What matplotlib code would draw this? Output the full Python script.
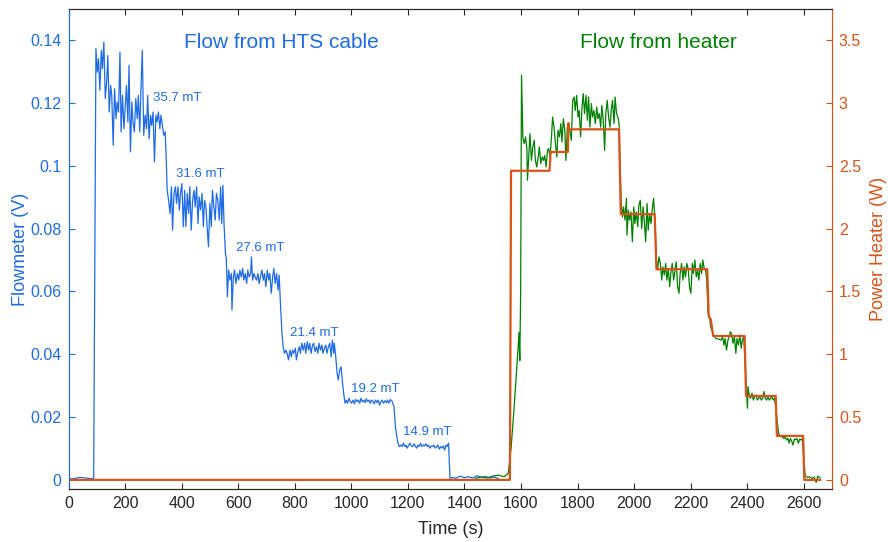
import numpy as np
import matplotlib
matplotlib.use('Agg')
import matplotlib.pyplot as plt

plt.rcParams['font.family'] = ['Liberation Sans', 'DejaVu Sans']

# Flowmeter signal while the HTS cable is energised (time in s, signal in V)
cable_t = [0, 20, 40, 60, 80, 89, 93, 97,
           102, 106, 111, 116, 120, 125, 130, 135, 139, 144, 149, 153, 158, 163, 168, 172,
           177, 182, 186, 191, 196, 200, 205, 210, 214, 219, 224, 228, 233, 238, 243, 247,
           252, 257, 261, 266, 271, 276, 280, 285, 290, 294, 299, 304, 309, 313, 318, 323,
           327, 332, 337, 342, 346,
           349, 354, 359, 364, 368, 373, 378, 382, 387, 392, 396, 401, 406, 411, 415, 420,
           425, 429, 434, 439, 444, 448, 453, 458, 462, 467, 472, 477, 481, 486, 491, 495,
           500, 505, 509, 514, 519, 523, 528, 533, 538, 542, 546, 550, 555, 558,
           562, 566, 571, 576, 578, 583, 587, 592, 597, 602, 606, 611, 616, 620, 625, 630,
           634, 639, 644, 647, 651, 656, 660, 665, 670, 674, 679, 684, 689, 693, 698, 703,
           708, 712, 717, 722, 726, 731, 736, 741, 745, 750, 755, 759,
           764, 769, 773, 778, 783, 788, 792, 797, 802, 806, 811, 816, 820, 825, 830, 835,
           839, 844, 849, 853, 858, 863, 867, 872, 877, 882, 886, 891, 896, 900, 905, 910,
           914, 919, 924, 929, 933, 938, 940, 945, 950, 954, 959, 964, 968, 973, 978,
           983, 987, 992, 997, 1001, 1006, 1011, 1015, 1020, 1025, 1030, 1034, 1039, 1044,
           1048, 1053, 1058, 1063, 1067, 1072, 1077, 1081, 1086, 1091, 1095, 1100, 1105,
           1109, 1114, 1119, 1124, 1128, 1133, 1138, 1145, 1151, 1156, 1161, 1165,
           1170, 1175, 1179, 1184, 1189, 1193, 1198, 1203, 1208, 1212, 1217, 1222, 1226,
           1231, 1236, 1240, 1245, 1250, 1255, 1259, 1264, 1269, 1273, 1278, 1283, 1287,
           1292, 1297, 1302, 1306, 1311, 1316, 1320, 1325, 1330, 1335, 1339, 1344, 1349,
           1357, 1370, 1385, 1400, 1415, 1430, 1445, 1460, 1475, 1490, 1505, 1520]
cable_v = [0.0003, 0.0004, 0.0008, 0.0006, 0.0004, 0.0005, 0.07, 0.1373,
           0.1298, 0.1341, 0.1240, 0.1367, 0.1309, 0.1394, 0.1214, 0.1267, 0.1351, 0.1171,
           0.1256, 0.1224, 0.1065, 0.1245, 0.1150, 0.1203, 0.1171, 0.1362, 0.1108, 0.1224,
           0.1118, 0.1182, 0.1256, 0.1139, 0.1320, 0.1044, 0.1203, 0.1139, 0.1108, 0.1214,
           0.1150, 0.1224, 0.1108, 0.1267, 0.1367, 0.1097, 0.1161, 0.1118, 0.1224, 0.1086,
           0.1161, 0.1129, 0.1171, 0.1012, 0.1161, 0.1139, 0.1171, 0.1118, 0.1161, 0.1129,
           0.1097, 0.1108, 0.1012,
           0.0922, 0.0890, 0.0848, 0.0933, 0.0795, 0.0912, 0.0933, 0.0880, 0.0933, 0.0859,
           0.0912, 0.0943, 0.0806, 0.0922, 0.0806, 0.0912, 0.0848, 0.0933, 0.0795, 0.0890,
           0.0922, 0.0869, 0.0933, 0.0816, 0.0901, 0.0859, 0.0912, 0.0806, 0.0890, 0.0869,
           0.0795, 0.0742, 0.0880, 0.0806, 0.0922, 0.0869, 0.0827, 0.0912, 0.0890, 0.0827,
           0.0933, 0.0816, 0.0938, 0.0816, 0.0721, 0.0705,
           0.0583, 0.0668, 0.0636, 0.0657, 0.0541, 0.0646, 0.0668, 0.0625, 0.0657, 0.0636,
           0.0668, 0.0646, 0.0673, 0.0636, 0.0657, 0.0625, 0.0668, 0.0646, 0.0657, 0.0710,
           0.0636, 0.0657, 0.0646, 0.0636, 0.0657, 0.0625, 0.0646, 0.0668, 0.0636, 0.0657,
           0.0615, 0.0668, 0.0636, 0.0657, 0.0594, 0.0646, 0.0673, 0.0625, 0.0657, 0.0604,
           0.0652, 0.0551, 0.0466, 0.0424,
           0.0403, 0.0413, 0.0403, 0.0382, 0.0413, 0.0392, 0.0413, 0.0403, 0.0419, 0.0382,
           0.0408, 0.0424, 0.0403, 0.0435, 0.0413, 0.0435, 0.0403, 0.0440, 0.0413, 0.0435,
           0.0403, 0.0429, 0.0435, 0.0408, 0.0424, 0.0403, 0.0435, 0.0413, 0.0429, 0.0403,
           0.0419, 0.0429, 0.0403, 0.0424, 0.0435, 0.0392, 0.0445, 0.0403, 0.0435, 0.0392,
           0.0339, 0.0318, 0.0350, 0.0360, 0.0318, 0.0276, 0.0244,
           0.0254, 0.0244, 0.0260, 0.0249, 0.0244, 0.0254, 0.0242, 0.0256, 0.0249, 0.0254,
           0.0244, 0.0260, 0.0249, 0.0254, 0.0246, 0.0258, 0.0249, 0.0254, 0.0244, 0.0254,
           0.0249, 0.0242, 0.0254, 0.0246, 0.0254, 0.0238, 0.0249, 0.0254, 0.0244, 0.0252,
           0.0246, 0.0254, 0.0244, 0.0256, 0.0249, 0.0233, 0.0170, 0.0138, 0.0117,
           0.0106, 0.0111, 0.0106, 0.0117, 0.0106, 0.0111, 0.0101, 0.0111, 0.0117, 0.0108,
           0.0106, 0.0115, 0.0108, 0.0101, 0.0111, 0.0106, 0.0117, 0.0106, 0.0111, 0.0108,
           0.0115, 0.0106, 0.0111, 0.0101, 0.0108, 0.0106, 0.0111, 0.0101, 0.0106, 0.0111,
           0.0098, 0.0106, 0.0101, 0.0108, 0.0095, 0.0111, 0.0106, 0.0117, 0.0005,
           0.0008, 0.0005, 0.0012, 0.0007, 0.0010, 0.0006, 0.0013, 0.0008, 0.0011, 0.0006,
           0.0009, 0.0004]

# Flowmeter signal while the heater is driven
heater_flow_t = [1440, 1460, 1480, 1500, 1520, 1540, 1555, 1565, 1575, 1585, 1590, 1593,
                 1596, 1599, 1602,
                 1607, 1612, 1616, 1621, 1623, 1628, 1632, 1637, 1642, 1647, 1651, 1656,
                 1661, 1665, 1670, 1675, 1680, 1684, 1689, 1694, 1698, 1703, 1708, 1712,
                 1717, 1722, 1727, 1731, 1736, 1741, 1745, 1750, 1755, 1759, 1764, 1771,
                 1778, 1783, 1788, 1792, 1797, 1802, 1806, 1811, 1816, 1820, 1825, 1830,
                 1835, 1839, 1844, 1849, 1853, 1858, 1863, 1868, 1872, 1877, 1882, 1886,
                 1891, 1896, 1900, 1905, 1910, 1915, 1919, 1924, 1929, 1933, 1938, 1943, 1947,
                 1954, 1959, 1963, 1968, 1973, 1975, 1980, 1984, 1989, 1994, 1999, 2003,
                 2008, 2013, 2017, 2022, 2027, 2032, 2036, 2041, 2046, 2050, 2055, 2060,
                 2064, 2069, 2074,
                 2079, 2083, 2088, 2093, 2098, 2102, 2107, 2112, 2116, 2121, 2126, 2130,
                 2135, 2140, 2145, 2149, 2154, 2159, 2163, 2168, 2173, 2177, 2182, 2187,
                 2192, 2196, 2201, 2206, 2210, 2215, 2220, 2225, 2229, 2234, 2239, 2243,
                 2248, 2253, 2257, 2262, 2267, 2271,
                 2280, 2290, 2300, 2308, 2313, 2318, 2322, 2327, 2332, 2336, 2341, 2346,
                 2350, 2355, 2360, 2364, 2369, 2374, 2379, 2383, 2388,
                 2401, 2403, 2408, 2412, 2417, 2422, 2426, 2431, 2436, 2441, 2445, 2450,
                 2455, 2459, 2464, 2469, 2473, 2478, 2483, 2487, 2492, 2497,
                 2511, 2516, 2520, 2525, 2530, 2534, 2539, 2544, 2548, 2553, 2558, 2562,
                 2567, 2572, 2576, 2581, 2586, 2591, 2595,
                 2605, 2612, 2620, 2628, 2636, 2644, 2650, 2658]
heater_flow_v = [0.0005, 0.0009, 0.0006, 0.0012, 0.0015, 0.0010, 0.0020, 0.0100, 0.0220,
                 0.0350, 0.0420, 0.0470, 0.0380, 0.0600, 0.1289,
                 0.1086, 0.1071, 0.1092, 0.1055, 0.0954, 0.1039, 0.1102, 0.1017, 0.1060,
                 0.1081, 0.1017, 0.0996, 0.1028, 0.1060, 0.1007, 0.1028, 0.1017, 0.1033,
                 0.0996, 0.1049, 0.1055, 0.1028, 0.1092, 0.1155, 0.1123, 0.1071, 0.1028,
                 0.1113, 0.1092, 0.1134, 0.1076, 0.1150, 0.1113, 0.1017, 0.1123, 0.1123,
                 0.1081, 0.1208, 0.1219, 0.1176, 0.1224, 0.1155, 0.1176, 0.1092, 0.1187,
                 0.1230, 0.1166, 0.1224, 0.1145, 0.1219, 0.1123, 0.1198, 0.1155, 0.1176,
                 0.1134, 0.1187, 0.1150, 0.1166, 0.1123, 0.1192, 0.1145, 0.1049, 0.1166,
                 0.1208, 0.1155, 0.1123, 0.1176, 0.1208, 0.1134, 0.1219, 0.1166, 0.1155, 0.1134,
                 0.0890, 0.0837, 0.0869, 0.0827, 0.0896, 0.0779, 0.0859, 0.0827, 0.0853,
                 0.0758, 0.0869, 0.0816, 0.0853, 0.0806, 0.0874, 0.0890, 0.0800, 0.0869,
                 0.0827, 0.0758, 0.0880, 0.0795, 0.0848, 0.0816, 0.0859, 0.0896, 0.0827,
                 0.0700, 0.0668, 0.0710, 0.0689, 0.0636, 0.0678, 0.0652, 0.0689, 0.0636,
                 0.0673, 0.0615, 0.0657, 0.0689, 0.0636, 0.0668, 0.0694, 0.0615, 0.0594,
                 0.0657, 0.0689, 0.0636, 0.0678, 0.0646, 0.0689, 0.0668, 0.0615, 0.0594,
                 0.0689, 0.0657, 0.0700, 0.0646, 0.0668, 0.0636, 0.0689, 0.0657, 0.0700,
                 0.0673, 0.0668, 0.0636, 0.0530, 0.0519, 0.0487,
                 0.0462, 0.0450, 0.0448, 0.0445, 0.0456, 0.0429, 0.0450, 0.0413, 0.0445,
                 0.0456, 0.0472, 0.0461, 0.0435, 0.0456, 0.0403, 0.0450, 0.0429, 0.0461,
                 0.0419, 0.0445, 0.0456,
                 0.0228, 0.0297, 0.0265, 0.0260, 0.0276, 0.0254, 0.0265, 0.0270, 0.0254,
                 0.0260, 0.0265, 0.0254, 0.0260, 0.0281, 0.0260, 0.0254, 0.0265, 0.0254,
                 0.0260, 0.0265, 0.0254, 0.0260,
                 0.0148, 0.0140, 0.0138, 0.0136, 0.0132, 0.0138, 0.0127, 0.0132, 0.0117,
                 0.0132, 0.0122, 0.0111, 0.0130, 0.0128, 0.0132, 0.0117, 0.0130, 0.0127,
                 0.0132,
                 0.0013, 0.0008, 0.0010, 0.0004, 0.0009, -0.0008, 0.0012, 0.0006]

# Heater power set points (W)
power_t = [0, 1561, 1565, 1701, 1705, 1766, 1768, 1771, 1947, 1953, 2073, 2079,
           2259, 2264, 2271, 2280, 2391, 2396, 2501, 2505, 2598, 2602, 2658]
power_w = [0, 0, 2.46, 2.46, 2.61, 2.61, 2.84, 2.79, 2.79, 2.115, 2.115, 1.677,
           1.677, 1.30, 1.28, 1.145, 1.145, 0.668, 0.668, 0.35, 0.35, 0, 0]

# Field labels placed next to each plateau
field_labels = ['35.7 mT', '31.6 mT', '27.6 mT', '21.4 mT', '19.2 mT', '14.9 mT']
field_label_t = [298, 379, 591, 783, 998, 1183]
field_label_v = [0.1215, 0.0975, 0.0739, 0.0468, 0.0288, 0.0152]

flow_ticks = [0, 0.02, 0.04, 0.06, 0.08, 0.1, 0.12, 0.14]
flow_tick_labels = ['0', '0.02', '0.04', '0.06', '0.08', '0.1', '0.12', '0.14']
power_ticks = [0, 0.5, 1, 1.5, 2, 2.5, 3, 3.5]
power_tick_labels = ['0', '0.5', '1', '1.5', '2', '2.5', '3', '3.5']
time_ticks = list(range(0, 2601, 200))

blue = '#1f6be6'
green = '#008000'
orange = '#d95319'
dark = '#262626'

fig = plt.figure(figsize=(8.88, 5.42), dpi=100)
ax = fig.add_axes([0.07714, 0.09723, 0.85980, 0.88672])
ax2 = ax.twinx()

ax.plot(cable_t, cable_v, color=blue, lw=0.9)
ax.plot(heater_flow_t, heater_flow_v, color=green, lw=0.9)
ax2.plot(power_t, power_w, color=orange, lw=1.6)

for label, t, v in zip(field_labels, field_label_t, field_label_v):
    ax.text(t, v, label, color=blue, fontsize=9.5, ha='left', va='center')

ax.text(752, 0.1393, 'Flow from HTS cable', color=blue, fontsize=15, ha='center', va='center')
ax.text(2085, 0.1393, 'Flow from heater', color=green, fontsize=15, ha='center', va='center')

ax.set_xlim(0, 2700)
ax.set_ylim(-0.003, 0.15)
ax2.set_ylim(-0.075, 3.75)

ax.set_xticks(time_ticks)
ax.set_xticklabels([str(t) for t in time_ticks])
ax.set_yticks(flow_ticks)
ax.set_yticklabels(flow_tick_labels)
ax2.set_yticks(power_ticks)
ax2.set_yticklabels(power_tick_labels)

ax.tick_params(axis='x', direction='in', length=4, width=0.8, top=True, colors=dark,
               labelsize=11.5, pad=5)
ax.tick_params(axis='y', direction='in', length=4, width=0.8, colors=blue,
               labelsize=11.5, pad=5)
ax2.tick_params(axis='y', direction='in', length=4, width=0.8, colors=orange,
                labelsize=11.5, pad=5)
ax2.tick_params(axis='x', top=False)

for a in (ax, ax2):
    a.spines['top'].set_color(dark)
    a.spines['bottom'].set_color(dark)
    a.spines['left'].set_color(blue)
    a.spines['right'].set_color(orange)
    for s in a.spines.values():
        s.set_linewidth(0.8)

ax.set_xlabel('Time (s)', fontsize=13, color=dark)
ax.set_ylabel('Flowmeter (V)', fontsize=13, color=blue)
ax2.set_ylabel('Power Heater (W)', fontsize=13, color=orange)
ax.xaxis.set_label_coords(0.5, -0.066)
ax.yaxis.set_label_coords(-0.052, 0.5)
ax2.yaxis.set_label_coords(1.05, 0.5)

fig.savefig('out.png', dpi=100)
